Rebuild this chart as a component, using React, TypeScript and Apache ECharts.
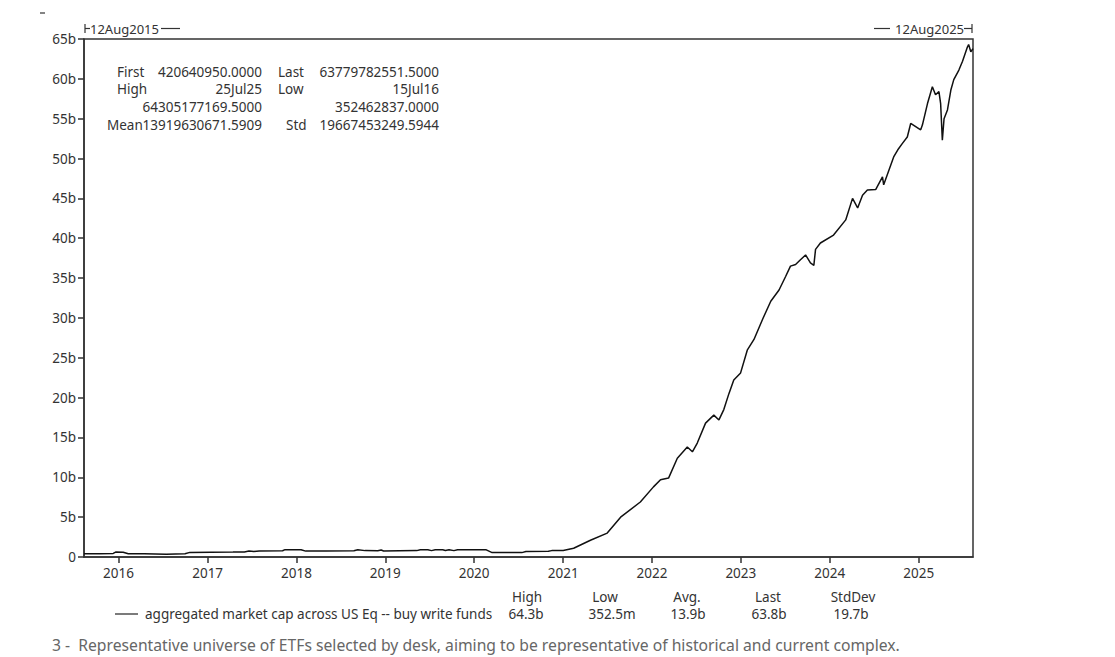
import React, { useEffect, useRef } from "react";
import * as echarts from "echarts";

const FONT = "'Noto Sans', sans-serif";
const TEXT = "#333";
const FS = 13.5;

// aggregated market cap (in billions USD)
const dates = [
  "2015-08-12", "2015-10-15", "2015-12-10", "2015-12-20", "2016-01-20", "2016-02-10",
  "2016-04-15", "2016-07-15", "2016-09-30", "2016-10-20", "2017-01-15", "2017-04-15",
  "2017-06-01", "2017-06-20", "2017-07-10", "2017-08-01", "2017-11-05", "2017-11-15",
  "2018-01-20", "2018-02-08", "2018-05-01", "2018-08-25", "2018-09-10", "2018-10-10",
  "2018-12-01", "2018-12-15", "2018-12-25", "2019-03-01", "2019-05-10", "2019-05-25",
  "2019-06-25", "2019-07-10", "2019-07-25", "2019-08-25", "2019-09-05", "2019-09-20",
  "2019-10-10", "2019-10-25", "2020-02-20", "2020-03-15", "2020-07-15", "2020-08-01",
  "2020-11-01", "2020-11-15", "2021-01-01", "2021-02-13", "2021-04-23", "2021-07-01",
  "2021-08-25", "2021-11-14", "2022-01-07", "2022-02-05", "2022-03-10", "2022-04-15",
  "2022-05-26", "2022-06-16", "2022-07-06", "2022-08-09", "2022-09-12", "2022-10-03",
  "2022-10-23", "2022-11-13", "2022-12-03", "2022-12-31", "2023-01-28", "2023-02-24",
  "2023-03-31", "2023-05-04", "2023-06-07", "2023-07-04", "2023-07-24", "2023-08-14",
  "2023-09-03", "2023-09-24", "2023-10-14", "2023-10-28", "2023-11-04", "2023-11-24",
  "2024-01-17", "2024-03-07", "2024-04-04", "2024-04-25", "2024-05-15", "2024-06-04",
  "2024-07-08", "2024-08-05", "2024-08-10", "2024-09-20", "2024-10-07", "2024-10-26",
  "2024-11-15", "2024-11-29", "2025-01-09", "2025-01-16", "2025-02-06", "2025-02-26",
  "2025-03-11", "2025-03-25", "2025-04-01", "2025-04-08", "2025-04-15", "2025-04-29",
  "2025-05-13", "2025-05-25", "2025-06-15", "2025-06-30", "2025-07-20", "2025-07-25",
  "2025-08-03", "2025-08-12",
];

const marketCapB = [
  0.42, 0.4, 0.45, 0.62, 0.6, 0.42,
  0.4, 0.35, 0.4, 0.58, 0.6, 0.62,
  0.64, 0.75, 0.7, 0.76, 0.78, 0.92,
  0.92, 0.74, 0.76, 0.78, 0.9, 0.8,
  0.78, 0.88, 0.75, 0.78, 0.8, 0.92,
  0.9, 0.8, 0.9, 0.92, 0.82, 0.92,
  0.8, 0.92, 0.9, 0.55, 0.55, 0.68,
  0.72, 0.8, 0.82, 1.1, 2.1, 3.0,
  5.0, 6.9, 8.8, 9.7, 9.9, 12.4,
  13.8, 13.2, 14.3, 16.8, 17.8, 17.2,
  18.5, 20.5, 22.2, 23.1, 26.0, 27.3,
  29.8, 32.1, 33.5, 35.2, 36.5, 36.7,
  37.3, 37.9, 36.9, 36.6, 38.6, 39.4,
  40.4, 42.3, 45.0, 43.8, 45.4, 46.05,
  46.1, 47.7, 46.7, 50.2, 51.1, 51.9,
  52.7, 54.4, 53.6, 54.2, 56.9, 59.0,
  58.0, 58.4, 56.9, 52.3, 55.0, 56.1,
  58.6, 59.9, 61.1, 62.2, 64.0, 64.3,
  63.4, 63.8,
];

const startLabel = "12Aug2015";
const endLabel = "12Aug2025";

const boxRows = [
  ["First", "420640950.0000", "Last", "63779782551.5000"],
  ["High", "25Jul25", "Low", "15Jul16"],
  ["", "64305177169.5000", "", "352462837.0000"],
  ["Mean", "13919630671.5909", "Std", "19667453249.5944"],
];

const seriesName = "aggregated market cap across US Eq -- buy write funds";
const statHeaders = ["High", "Low", "Avg.", "Last", "StdDev"];
const statValues = ["64.3b", "352.5m", "13.9b", "63.8b", "19.7b"];

const footnote =
  "3 -  Representative universe of ETFs selected by desk, aiming to be representative of historical and current complex.";

function txt(x: number, y: number, text: string, align: string, size = FS, fill = TEXT) {
  return {
    type: "text",
    x,
    y,
    silent: true,
    style: {
      text,
      fill,
      fontSize: size,
      fontFamily: FONT,
      textAlign: align,
      textVerticalAlign: "middle",
    },
  };
}

function seg(x1: number, y1: number, x2: number, y2: number, w = 1.3) {
  return {
    type: "line",
    silent: true,
    shape: { x1, y1, x2, y2 },
    style: { stroke: TEXT, lineWidth: w },
  };
}

export default function App() {
  const ref = useRef<HTMLDivElement>(null);

  useEffect(() => {
    if (!ref.current) return;
    const chart = echarts.init(ref.current, undefined, { renderer: "svg" });

    const graphics: any[] = [];
    // small mark top-left
    graphics.push(seg(40, 13, 45, 13, 1.2));
    // start/end date labels
    graphics.push(seg(85, 24, 85, 33, 1.2));
    graphics.push(seg(85, 28.5, 90, 28.5, 1.2));
    graphics.push(txt(90, 28.5, startLabel, "left", 13));
    graphics.push(seg(161, 28.5, 180, 28.5, 1.2));
    graphics.push(seg(874, 28.5, 890, 28.5, 1.2));
    graphics.push(txt(964, 28.5, endLabel, "right", 13));
    graphics.push(seg(964, 28.5, 972, 28.5, 1.2));
    graphics.push(seg(972, 24, 972, 33, 1.2));

    // stats box
    const rowY = [72, 89, 107, 125];
    boxRows.forEach((r, i) => {
      const y = rowY[i];
      if (r[0]) graphics.push(txt(i === 3 ? 107 : 117, y, r[0], "left"));
      graphics.push(txt(262, y, r[1], "right"));
      if (r[2]) graphics.push(txt(i === 3 ? 286 : 278, y, r[2], "left"));
      graphics.push(txt(439, y, r[3], "right"));
    });

    // legend
    graphics.push(seg(115, 614, 138, 614, 1.3));
    graphics.push(txt(145, 614, seriesName, "left", 13.5));
    const hx = [527, 605, 687, 768, 853];
    const vx = [526, 612, 688, 769, 851];
    statHeaders.forEach((h, i) => graphics.push(txt(hx[i], 597, h, "center")));
    statValues.forEach((v, i) => graphics.push(txt(vx[i], 614, v, "center")));

    // footnote
    graphics.push(txt(52, 645, footnote, "left", 15.7, "#666"));

    chart.setOption({
      animation: false,
      backgroundColor: "#fff",
      grid: {
        left: 84,
        top: 39,
        width: 889,
        height: 518,
        show: true,
        borderColor: "#333",
        borderWidth: 1.5,
        backgroundColor: "transparent",
      },
      xAxis: {
        type: "time",
        min: "2015-08-12",
        max: "2025-08-12",
        splitNumber: 10,
        axisLine: { show: true, lineStyle: { color: "#333", width: 1.5 } },
        axisTick: { show: true, length: 6, lineStyle: { color: "#333", width: 1.5 } },
        axisLabel: {
          formatter: "{yyyy}",
          color: TEXT,
          fontSize: FS,
          fontFamily: FONT,
          margin: 9,
          showMinLabel: false,
          showMaxLabel: false,
        },
        splitLine: { show: false },
      },
      yAxis: {
        type: "value",
        min: 0,
        max: 65,
        interval: 5,
        axisLine: { show: true, lineStyle: { color: "#333", width: 1.5 } },
        axisTick: { show: true, length: 6, lineStyle: { color: "#333", width: 1.5 } },
        axisLabel: {
          formatter: (v: number) => (v === 0 ? "0" : v + "b"),
          color: TEXT,
          fontSize: FS,
          fontFamily: FONT,
          margin: 8,
        },
        splitLine: { show: false },
      },
      series: [
        {
          type: "line",
          name: seriesName,
          showSymbol: false,
          lineStyle: { color: "#111", width: 1.5 },
          data: dates.map((d, i) => [d, marketCapB[i]]),
        },
      ],
      graphic: graphics,
    });

    return () => chart.dispose();
  }, []);

  return (
    <div
      ref={ref}
      style={{ position: "fixed", left: 0, top: 0, width: 1115, height: 657 }}
    />
  );
}
